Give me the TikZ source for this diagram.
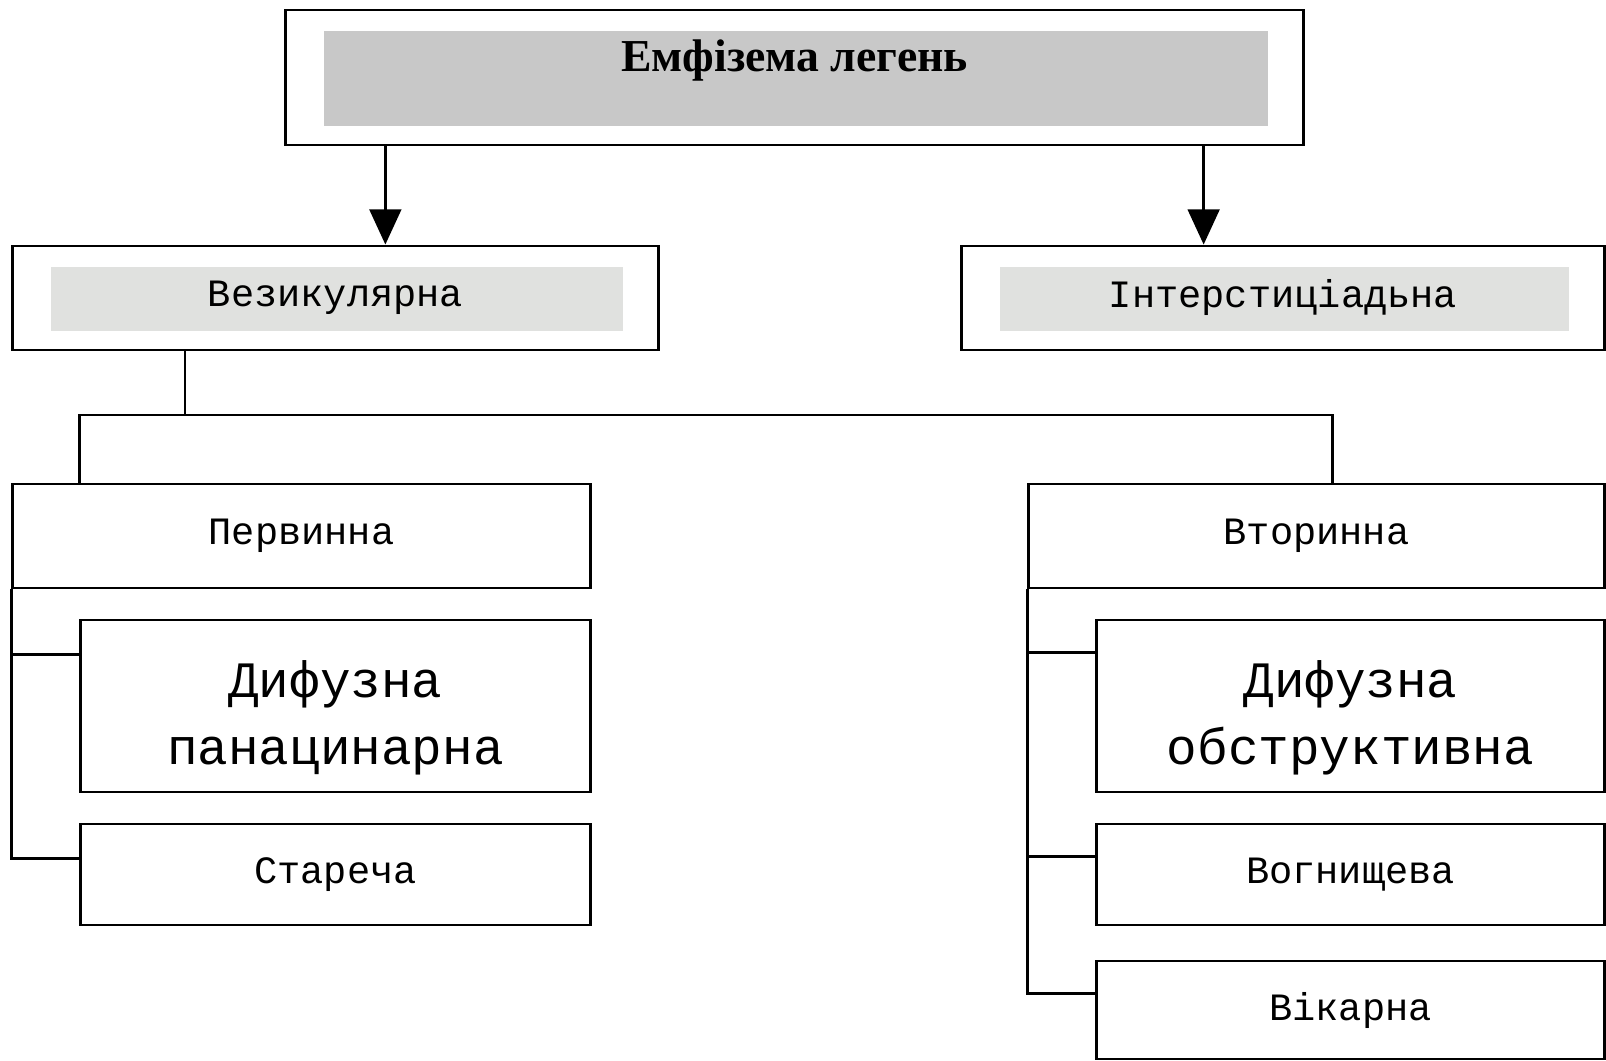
\documentclass[tikz,border=0pt]{standalone}
\usepackage{fontspec}
\setmainfont{Liberation Serif}
\setmonofont{Liberation Mono}
\usetikzlibrary{arrows.meta}
\definecolor{titlegray}{RGB}{200,200,200}
\definecolor{subgray}{RGB}{224,225,223}
\tikzset{
  boxframe/.style={draw, line width=0.8pt, inner sep=0pt},
  catbox/.style={boxframe, path picture={\fill[#1] ([shift={(0.38cm,-0.21cm)}]path picture bounding box.north west) rectangle ([shift={(-0.35cm,0.19cm)}]path picture bounding box.south east);}},
  lbl/.style={font=\ttfamily\fontsize{11pt}{13pt}\selectfont},
  biglbl/.style={font=\ttfamily\fontsize{14.5pt}{19pt}\selectfont, align=center},
  link/.style={line width=0.8pt},
  arr/.style={link, -{Triangle[length=10pt, width=9pt]}}
}
\begin{document}
\begin{tikzpicture}[x=0.01cm, y=-0.01cm]
  \useasboundingbox (0,0) rectangle (1606,1061);

  % top level
  \node[catbox=titlegray, minimum width=10.17cm, minimum height=1.35cm,
        font=\bfseries\fontsize{13pt}{15pt}\selectfont,
        text height=0.28cm, text depth=0.4cm] (emph) at (794.5,77.5) {Емфізема легень};

  % two kinds
  \node[catbox=subgray, minimum width=6.45cm, minimum height=1.04cm, lbl] (vez) at (335.5,298) {Везикулярна};
  \node[catbox=subgray, minimum width=6.42cm, minimum height=1.04cm, lbl] (inter) at (1283,298) {Інтерстиціадьна};

  % primary / secondary
  \node[boxframe, minimum width=5.77cm, minimum height=1.04cm, lbl] (perv) at (301.5,536) {Первинна};
  \node[boxframe, minimum width=5.75cm, minimum height=1.04cm, lbl] (vtor) at (1316.5,536) {Вторинна};

  % left column
  \node[boxframe, minimum width=5.09cm, minimum height=1.72cm, biglbl] (difpan) at (335.5,706) {\rule{0pt}{0.6cm}Дифузна\\панацинарна};
  \node[boxframe, minimum width=5.09cm, minimum height=1.01cm, lbl] (star) at (335.5,874.5) {Стареча};

  % right column
  \node[boxframe, minimum width=5.07cm, minimum height=1.72cm, biglbl] (difobs) at (1350.5,706) {\rule{0pt}{0.6cm}Дифузна\\обструктивна};
  \node[boxframe, minimum width=5.07cm, minimum height=1.01cm, lbl] (vogn) at (1350.5,874.5) {Вогнищева};
  \node[boxframe, minimum width=5.07cm, minimum height=0.98cm, lbl] (vik) at (1350.5,1010) {Вікарна};

  % arrows from the top box
  \coordinate (al) at ([xshift=1.01cm]emph.south west);
  \coordinate (ar) at ([xshift=-1.01cm]emph.south east);
  \draw[arr] (al) -- (al |- vez.north);
  \draw[arr] (ar) -- (ar |- inter.north);

  % split below the first kind
  \coordinate (split) at (185,415);
  \draw[link] (split |- vez.south) -- (split);
  \draw[link] ([xshift=0.68cm]perv.north west) |- (split) -| ([xshift=3.05cm]vtor.north west);

  % side buses
  \foreach \bx in {difpan,star}
    \draw[link] (perv.south west) |- ([yshift=-0.36cm]\bx.north west);
  \foreach \bx in {difobs,vogn,vik}
    \draw[link] (vtor.south west) |- ([yshift=-0.34cm]\bx.north west);
\end{tikzpicture}
\end{document}
